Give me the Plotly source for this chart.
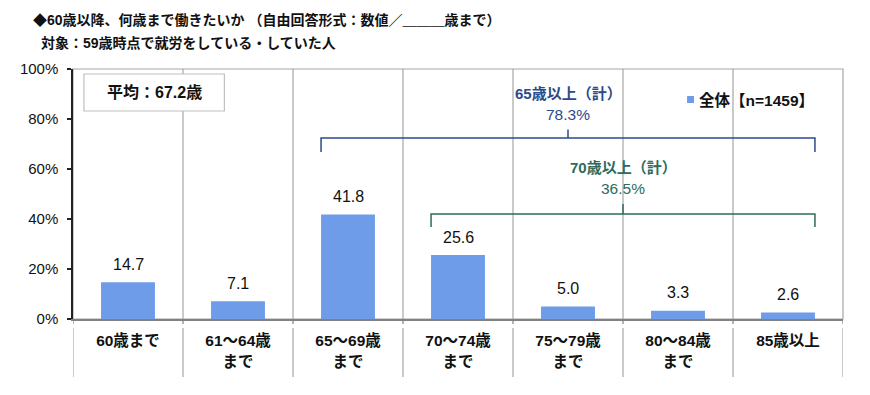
import plotly.graph_objects as go

categories = ["60歳まで", "61～64歳<br>まで", "65～69歳<br>まで", "70～74歳<br>まで",
              "75～79歳<br>まで", "80～84歳<br>まで", "85歳以上"]
values = [14.7, 7.1, 41.8, 25.6, 5.0, 3.3, 2.6]
y_ticks = [0, 20, 40, 60, 80, 100]
y_ticklabels = ["0%", "20%", "40%", "60%", "80%", "100%"]
series_name = "全体【n=1459】"
mean_label = "平均：67.2歳"
title1 = "◆60歳以降、何歳まで働きたいか （自由回答形式：数値／＿＿＿歳まで）"
title2 = "対象：59歳時点で就労をしている・していた人"
bracket65 = ("65歳以上（計）", "78.3%")
bracket70 = ("70歳以上（計）", "36.5%")

BAR = "#6E9CE8"
BLUE = "#2B4A8B"
GREEN = "#2E6B5C"
GRID = "#A6A6A6"
FONT = "Liberation Sans, Noto Sans CJK JP, sans-serif"

x = list(range(len(categories)))
fig = go.Figure()
fig.add_trace(go.Bar(x=x, y=values, marker=dict(color=BAR, line=dict(width=0)),
                     width=0.49, showlegend=False, hoverinfo="skip"))

shapes = []
shapes.append(dict(type="rect", xref="paper", yref="paper", x0=0, x1=1, y0=0, y1=1,
                   line=dict(color=GRID, width=1.2), layer="below"))
n = len(categories)
for i in range(n - 1):
    b = i + 0.5
    shapes.append(dict(type="line", xref="x", yref="paper", x0=b, x1=b, y0=0, y1=1,
                       line=dict(color=GRID, width=1.2), layer="below"))
for i in range(n + 1):
    b = i - 0.5
    shapes.append(dict(type="line", xref="x", yref="paper", x0=b, x1=b, y0=0, y1=-0.02,
                       line=dict(color="#808080", width=1.2)))
    shapes.append(dict(type="line", xref="x", yref="paper", x0=b, x1=b, y0=-0.036, y1=-0.232,
                       line=dict(color=GRID, width=1.2)))

hw = 0.245
l65, r65 = 2 - hw, 6 + hw
shapes.append(dict(type="path", xref="x", yref="y",
                   path=f"M {l65},66.8 L {l65},72.4 L {r65},72.4 L {r65},66.8",
                   line=dict(color=BLUE, width=1.5)))
c65 = (l65 + r65) / 2
shapes.append(dict(type="line", xref="x", yref="y", x0=c65, x1=c65, y0=72.4, y1=75.8,
                   line=dict(color=BLUE, width=1.5)))
l70, r70 = 3 - hw, 6 + hw
shapes.append(dict(type="path", xref="x", yref="y",
                   path=f"M {l70},36.8 L {l70},42.0 L {r70},42.0 L {r70},36.8",
                   line=dict(color=GREEN, width=1.5)))
c70 = (l70 + r70) / 2
shapes.append(dict(type="line", xref="x", yref="y", x0=c70, x1=c70, y0=42.0, y1=46.0,
                   line=dict(color=GREEN, width=1.5)))

shapes.append(dict(type="rect", xref="paper", yref="paper", x0=0.0142, x1=0.1966, y0=0.832, y1=0.98,
                   line=dict(color="#BFBFBF", width=1.2), fillcolor="white"))
shapes.append(dict(type="rect", xref="paper", yref="paper", x0=0.7975, x1=0.8065, y0=0.864, y1=0.892,
                   line=dict(width=0), fillcolor=BAR))


def a(**kw):
    base = dict(showarrow=False, xanchor="center", yanchor="middle")
    base.update(kw)
    return base


ann = []
for xi, v in zip(x, values):
    ann.append(a(x=xi, y=v, xref="x", yref="y", text=f"{v:.1f}",
                 yshift=18, font=dict(size=16, color="#111111", family=FONT)))
ann.append(a(x=c65, y=90.4, xref="x", yref="y", text=f"<b>{bracket65[0]}</b>",
             font=dict(size=15, color=BLUE, family=FONT)))
ann.append(a(x=c65, y=82.0, xref="x", yref="y", text=bracket65[1],
             font=dict(size=15.5, color=BLUE, family=FONT)))
ann.append(a(x=c70, y=60.8, xref="x", yref="y", text=f"<b>{bracket70[0]}</b>",
             font=dict(size=15, color=GREEN, family=FONT)))
ann.append(a(x=c70, y=52.4, xref="x", yref="y", text=bracket70[1],
             font=dict(size=15.5, color=GREEN, family=FONT)))
ann.append(a(x=0.1054, y=0.906, xref="paper", yref="paper", text=f"<b>{mean_label}</b>",
             font=dict(size=16, color="#111111", family=FONT)))
ann.append(a(x=0.811, y=0.878, xref="paper", yref="paper", text=f"<b>{series_name}</b>",
             xanchor="left", font=dict(size=15.5, color="#111111", family=FONT)))
ann.append(a(x=-0.0543, y=1.196, xref="paper", yref="paper", text=f"<b>{title1}</b>",
             xanchor="left", font=dict(size=14, color="#111111", family=FONT)))
ann.append(a(x=-0.0440, y=1.104, xref="paper", yref="paper", text=f"<b>{title2}</b>",
             xanchor="left", font=dict(size=14, color="#111111", family=FONT)))

fig.update_layout(
    width=862, height=387,
    margin=dict(l=62, r=27, t=61, b=76),
    paper_bgcolor="white", plot_bgcolor="white",
    shapes=shapes, annotations=ann,
    font=dict(family=FONT, color="#111111"),
    bargap=0.5,
)
fig.update_xaxes(range=[-0.5, n - 0.5], tickvals=x, ticktext=[f"<b>{c}</b>" for c in categories],
                 showgrid=False, zeroline=False, showline=True, linecolor="#808080", linewidth=1.5,
                 ticks="", tickfont=dict(size=15.5, color="#111111", family=FONT),
                 ticklabelstandoff=7, fixedrange=True)
fig.update_yaxes(range=[0, 100], tickvals=y_ticks, ticktext=y_ticklabels, showgrid=False,
                 zeroline=False, showline=True, linecolor="#222222", linewidth=1.5,
                 ticks="outside", ticklen=4, tickcolor="#222222", tickwidth=1.5,
                 tickfont=dict(size=15, color="#111111", family=FONT),
                 ticklabelstandoff=6, fixedrange=True)

fig.write_html("out.html")
